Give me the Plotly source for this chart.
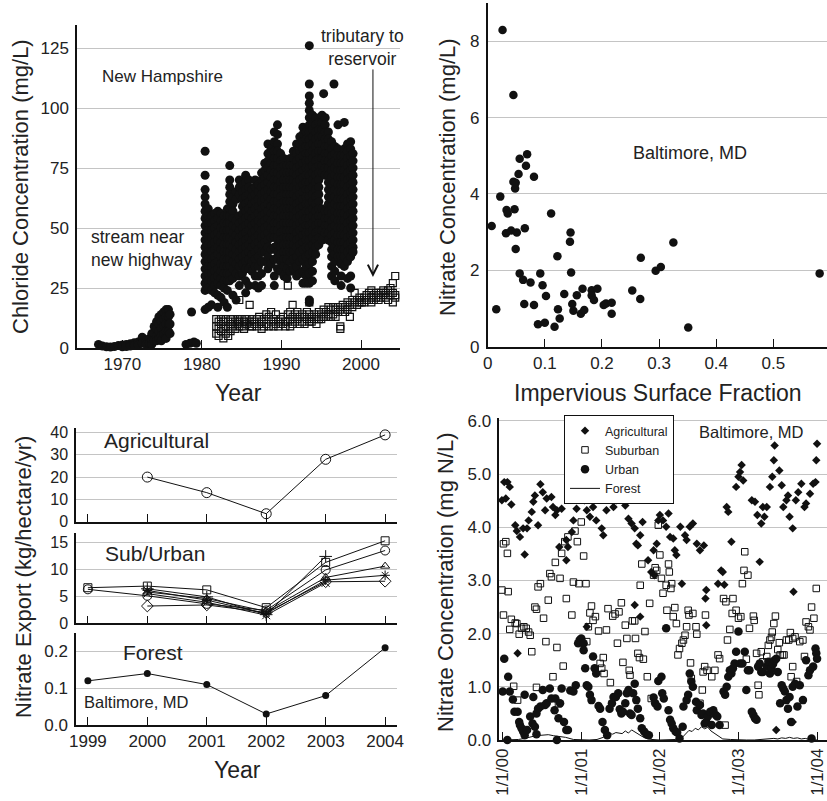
import plotly.graph_objects as go

FONT = "Liberation Sans, Arial, Helvetica, sans-serif"
W, H = 827, 801

# ---------------- Panel A: chloride, New Hampshire ----------------
# stream near new highway: columns of (year, [values])
stream_col_year = [
    1967.0, 1967.5, 1968.0, 1968.5, 1969.0, 1969.5, 1970.0, 1970.5, 1971.0, 1971.5,
    1972.0, 1972.5, 1973.0, 1973.4, 1973.7, 1974.0, 1974.3, 1974.6, 1974.9, 1975.2,
    1975.5, 1975.8, 1976.0, 1978.0, 1978.5, 1978.7, 1979.0, 1979.3,
    1980.4, 1980.8, 1981.2, 1981.6, 1982.0, 1982.4, 1982.8, 1983.2, 1983.5, 1983.9,
    1984.3, 1984.7, 1985.1, 1985.5, 1985.9, 1986.3, 1986.7, 1987.1, 1987.5, 1987.9,
    1988.3, 1988.7, 1989.1, 1989.5, 1989.9, 1990.3, 1990.7, 1991.1, 1991.5, 1991.9,
    1992.3, 1992.7, 1993.1, 1993.5, 1993.9, 1994.3, 1994.7, 1995.1, 1995.3, 1995.5,
    1995.9, 1996.3, 1996.6, 1996.7, 1997.1, 1997.5, 1997.9, 1998.3, 1998.7, 1999.0,
]
stream_col_cl = [
    [1.5], [0.8], [0.5], [0.4], [0.6], [1.0], [1.2, 0.5], [1.5, 0.6], [1.8, 0.8], [2.2, 1.0],
    [2.5, 1.2], [4.5, 2.0], [3.0, 1.5], [4.0, 2.0], [6, 3, 1.5], [9, 6, 3], [11, 8, 5, 3],
    [13, 10, 7, 4], [14, 11, 8, 5, 3], [15, 12, 9, 6], [16, 13, 10, 7, 4], [16, 13, 10, 7],
    [14, 10, 6], [1.5], [2.0], [15], [2.5], [2.0],
    [82, 72, 66, 63, 60, 57, 54, 51, 48, 45, 42, 39, 36, 33, 30, 27, 24, 16],
    [58, 55, 52, 49, 46, 43, 40, 37, 34, 31, 28, 25, 17],
    [55, 52, 49, 46, 43, 40, 37, 34, 31, 28, 24, 18],
    [56, 53, 50, 47, 44, 41, 38, 35, 32, 29, 26, 23],
    [57, 54, 51, 48, 45, 42, 39, 36, 33, 30, 27, 22, 17],
    [56, 53, 50, 47, 44, 41, 38, 35, 32, 29, 26, 21],
    [55, 52, 49, 46, 43, 40, 37, 34, 31, 28, 25, 19],
    [58, 55, 52, 49, 46, 43, 40, 37, 34, 31, 28, 24, 17],
    [76, 70, 67, 64, 61, 58, 55, 52, 49, 46, 43, 40, 37, 34, 31, 28],
    [63, 60, 57, 54, 51, 48, 45, 42, 39, 36, 33, 29, 22],
    [65, 62, 53, 50, 47, 44, 41, 38, 35, 31, 20],
    [70, 67, 64, 55, 52, 49, 46, 43, 40, 37, 34, 30, 26],
    [68, 65, 62, 59, 56, 53, 50, 47, 44, 41, 38, 35, 31],
    [72, 69, 66, 63, 60, 57, 54, 51, 48, 45, 42, 39, 36, 33, 28, 23],
    [70, 67, 64, 61, 58, 55, 52, 49, 46, 43, 40, 37, 33, 26],
    [66, 63, 60, 57, 54, 51, 48, 45, 42, 39, 36, 32],
    [70, 67, 64, 61, 58, 55, 52, 49, 46, 43, 40, 37, 34, 30, 26],
    [68, 65, 62, 59, 56, 53, 50, 47, 44, 41, 38, 34, 30, 25],
    [73, 70, 67, 64, 61, 58, 55, 52, 49, 46, 43, 40, 36, 31, 26],
    [77, 74, 71, 68, 65, 62, 59, 56, 53, 50, 47, 44, 40, 36],
    [85, 81, 78, 75, 72, 69, 66, 63, 60, 57, 54, 51, 48, 45, 42, 38, 33],
    [83, 80, 77, 74, 71, 68, 65, 62, 59, 56, 53, 50, 46, 41, 35],
    [90, 86, 82, 79, 76, 73, 70, 67, 64, 61, 58, 55, 52, 49, 46, 42, 37, 30, 26],
    [93, 89, 85, 82, 79, 76, 73, 70, 67, 64, 61, 58, 55, 52, 49, 46, 43, 40, 37, 33],
    [81, 78, 75, 72, 69, 66, 63, 60, 57, 54, 51, 48, 45, 42, 39, 36, 32],
    [79, 76, 73, 70, 67, 64, 61, 58, 55, 52, 49, 46, 43, 40, 37, 34, 30],
    [76, 73, 70, 67, 64, 61, 58, 55, 52, 49, 46, 43, 40, 37, 33, 29],
    [79, 76, 73, 70, 67, 64, 61, 58, 55, 52, 49, 46, 43, 40, 36, 32],
    [82, 79, 76, 73, 70, 67, 64, 61, 58, 55, 52, 49, 46, 43, 40, 37, 33],
    [85, 81, 78, 75, 72, 69, 66, 63, 60, 57, 54, 51, 48, 45, 42, 38, 34, 30],
    [88, 85, 82, 79, 76, 73, 70, 67, 64, 61, 58, 55, 52, 49, 46, 43, 40, 36, 31],
    [92, 89, 86, 83, 80, 77, 74, 71, 68, 65, 62, 59, 56, 53, 50, 47, 44, 41, 37, 32, 27],
    [90, 87, 84, 81, 78, 75, 72, 69, 66, 63, 60, 57, 54, 51, 48, 45, 42, 38, 34, 30, 27],
    [126, 110, 105, 102, 99, 96, 93, 90, 87, 84, 81, 78, 75, 72, 69, 66, 63, 60, 57, 54,
     51, 48, 45, 42, 39, 35, 31, 27, 20, 19],
    [97, 94, 91, 88, 85, 82, 79, 76, 73, 70, 67, 64, 61, 58, 55, 52, 49, 46, 43, 40, 36, 32, 28],
    [96, 93, 90, 87, 84, 81, 78, 75, 72, 69, 66, 63, 60, 57, 54, 51, 48, 45, 42, 39],
    [94, 91, 88, 85, 82, 79, 76, 73, 70, 67, 64, 61, 58, 55, 52, 49, 46, 43],
    [97, 94, 91, 88, 85, 82, 79, 76, 73, 58, 55, 52, 49, 45],
    [106],
    [96, 93, 90, 87, 84, 81, 78, 75, 72, 57, 54, 51, 48],
    [90, 87, 84, 81, 78, 75, 72, 69, 66, 63, 60, 57, 54, 51, 48, 45],
    [86, 83, 80, 77, 74, 71, 68, 65, 62, 59, 56, 53, 50, 47, 44, 41, 38, 34, 30],
    [110],
    [84, 81, 78, 75, 72, 69, 66, 63, 60, 57, 54, 51, 48, 45, 42, 39, 36, 32, 28],
    [93, 83, 80, 77, 74, 71, 68, 65, 62, 59, 56, 53, 50, 47, 44, 41, 38],
    [80, 77, 74, 71, 68, 65, 62, 59, 56, 53, 50, 47, 44, 41, 38, 35, 30, 26],
    [94, 83, 80, 77, 74, 71, 68, 65, 62, 59, 56, 53, 50, 47, 44, 41, 38, 34],
    [85, 82, 79, 76, 73, 70, 67, 64, 61, 58, 55, 52, 49, 46, 43, 40, 36, 29],
    [86, 83, 80, 77, 74, 71, 68, 65, 62, 59, 56, 53, 50, 47, 44, 41, 38, 30, 25],
    [81, 78, 75, 72, 69, 66, 63, 60, 57, 54, 51, 48, 45, 42, 40],
]

# tributary to reservoir: columns of (year, [values])
trib_col_year = [
    1981.8, 1982.1, 1982.4, 1982.7, 1983.0, 1983.3, 1983.6, 1983.9, 1984.2, 1984.5,
    1984.7, 1985.0, 1985.3, 1985.6, 1986.0, 1986.3, 1986.6, 1986.9, 1987.2, 1987.5,
    1987.8, 1988.1, 1988.4, 1988.7, 1989.0, 1989.3, 1989.6, 1989.9, 1990.2, 1990.5,
    1990.8, 1991.1, 1991.4, 1991.7, 1992.0, 1992.3, 1992.6, 1992.9, 1993.2, 1993.5,
    1993.8, 1994.1, 1994.4, 1994.7, 1995.0, 1995.3, 1995.6, 1995.9, 1996.2, 1996.5,
    1996.8, 1997.1, 1997.4, 1997.7, 1998.0, 1998.3, 1998.6, 1998.9, 1999.2, 1999.5,
    1999.8, 2000.1, 2000.4, 2000.7, 2001.0, 2001.3, 2001.6, 2001.9, 2002.2, 2002.5,
    2002.8, 2003.1, 2003.4, 2003.7, 2004.0, 2004.3,
]
trib_col_cl = [
    [12, 9, 6], [11, 8, 5], [12, 10, 7], [11, 8, 4], [12, 9, 6], [11, 8, 5], [12, 10, 7],
    [12, 9], [11, 8], [12, 10], [20, 11, 9], [12, 9], [11, 8], [12, 10], [18, 11, 9],
    [12, 9], [11, 10], [12, 9], [13, 10], [11, 8], [12, 9], [14, 10], [13, 9], [15, 11],
    [12, 9], [14, 10], [11, 9], [12, 10], [13, 10], [11, 9], [26, 14, 11], [15, 12, 9],
    [18, 13, 10], [14, 11], [15, 12], [13, 10], [14, 11], [13, 10], [15, 12], [19, 14, 11],
    [13, 11], [14, 12], [13, 10], [15, 12], [14, 12], [16, 13], [15, 13], [17, 14],
    [16, 13], [17, 14], [16, 13], [17, 15], [16, 9, 8], [18, 15], [17, 15], [19, 16],
    [18, 13], [20, 17], [23, 19], [20, 18], [21, 19], [20, 19], [21, 19], [22, 20],
    [23, 20], [24, 21, 19], [22, 20], [23, 21], [22, 20], [23, 21], [24, 22], [23, 21],
    [24, 22, 20], [25, 22], [27, 23, 19], [30, 22, 21],
]

# ---------------- Panel B: nitrate vs impervious surface ----------------
imperv_frac = [0.026, 0.045, 0.007, 0.015, 0.022, 0.033, 0.035, 0.047, 0.032, 0.041,
               0.051, 0.049, 0.045, 0.048, 0.049, 0.054, 0.056, 0.067, 0.069, 0.081,
               0.065, 0.056, 0.062, 0.075, 0.064, 0.081, 0.088, 0.092, 0.096, 0.100,
               0.102, 0.111, 0.117, 0.122, 0.123, 0.126, 0.134, 0.145, 0.144, 0.146,
               0.148, 0.150, 0.156, 0.163, 0.166, 0.169, 0.182, 0.182, 0.186, 0.192,
               0.203, 0.207, 0.217, 0.217, 0.253, 0.267, 0.268, 0.294, 0.303, 0.325,
               0.351, 0.581]
imperv_nitrate = [8.29, 6.59, 3.16, 0.98, 3.93, 3.58, 3.49, 3.60, 2.97, 3.04,
                  2.99, 2.56, 4.32, 4.14, 4.29, 4.52, 4.92, 4.74, 5.04, 4.45,
                  3.10, 1.92, 1.75, 1.68, 1.12, 1.09, 0.59, 1.92, 1.61, 0.63,
                  1.33, 3.49, 0.52, 2.37, 0.98, 0.74, 1.38, 2.99, 2.75, 1.94,
                  1.12, 0.94, 1.35, 0.86, 1.52, 0.96, 1.48, 1.34, 1.22, 1.52,
                  1.09, 1.13, 1.15, 0.86, 1.47, 1.25, 2.33, 1.99, 2.09, 2.73,
                  0.50, 1.92]

# ---------------- Panel C: nitrate export ----------------
export_years = [1999, 2000, 2001, 2002, 2003, 2004]
ag_export = [None, 20, 13, 3.5, 28, 39]
sub_square = [6.6, 6.9, 6.2, 2.9, 11.3, 15.3]
sub_circle = [6.3, 5.1, 3.6, 2.4, 9.9, 13.5]
sub_triangle = [None, 5.8, 4.6, 2.2, 8.5, 10.6]
sub_asterisk = [None, 6.1, 4.3, 1.8, 8.0, 8.9]
sub_plus = [None, 6.4, 4.9, 1.6, 12.4, None]
sub_diamond = [None, 3.2, 3.4, 2.0, 7.7, 7.8]
sub_xmark = [None, 5.5, 3.9, 1.5, 7.5, None]
forest_export = [0.12, 0.14, 0.11, 0.03, 0.08, 0.21]

# ---------------- Panel D: nitrate concentration time series ----------------
ag_pts = [
    (1999.99, 4.51), (2000.02, 4.85), (2000.06, 4.85), (2000.09, 4.76), (2000.04, 4.54), (2000.11, 4.43),
    (2000.16, 4.04), (2000.18, 3.93), (2000.22, 3.82), (2000.26, 3.98), (2000.28, 3.49), (2000.31, 3.98),
    (2000.33, 4.13), (2000.37, 4.29), (2000.39, 4.48), (2000.41, 4.60), (2000.45, 4.04), (2000.48, 4.81),
    (2000.51, 4.66), (2000.54, 4.32), (2000.56, 4.54), (2000.62, 4.57), (2000.64, 4.38), (2000.67, 4.23),
    (2000.69, 4.32), (2000.75, 4.35), (2000.72, 3.63), (2000.81, 3.76), (2000.83, 3.63), (2000.81, 3.38),
    (2000.88, 3.91), (2000.90, 4.13), (2000.94, 4.35), (2000.97, 4.63), (2001.00, 4.63), (2001.04, 4.51),
    (2001.07, 4.32), (2001.11, 4.20), (2001.15, 4.38), (2001.19, 4.13), (2001.26, 3.98), (2001.28, 3.85),
    (2001.32, 4.32), (2001.36, 4.73), (2001.39, 4.60), (2001.41, 4.38), (2001.45, 4.51), (2001.49, 4.54),
    (2001.51, 4.73), (2001.56, 4.41), (2001.60, 4.16), (2001.64, 4.07), (2001.68, 3.98), (2001.70, 3.69),
    (2001.72, 3.66), (2001.75, 3.85), (2001.78, 4.10), (2001.85, 3.38), (2001.89, 3.16), (2001.92, 3.57),
    (2001.96, 3.69), (2001.98, 4.13), (2002.00, 4.23), (2002.04, 4.13), (2002.08, 4.01), (2002.11, 4.26),
    (2002.13, 3.82), (2002.17, 3.79), (2002.19, 3.57), (2002.21, 3.48), (2002.26, 4.01), (2002.32, 3.85),
    (2002.34, 3.76), (2002.38, 4.01), (2002.42, 4.07), (2002.47, 3.69), (2002.51, 3.57), (2002.56, 3.66),
    (2002.59, 2.82), (2002.58, 2.66), (2002.59, 2.16), (2002.74, 2.94), (2002.78, 3.19), (2002.91, 3.73),
    (2002.85, 4.38), (2002.87, 4.29), (2002.97, 4.76), (2003.00, 4.95), (2003.02, 5.04), (2003.04, 5.17),
    (2003.06, 4.88), (2003.17, 4.51), (2003.21, 4.48), (2003.24, 4.23), (2003.27, 3.35), (2003.29, 4.07),
    (2003.31, 4.38), (2003.33, 4.20), (2003.36, 4.38), (2003.40, 4.76), (2003.43, 4.95), (2003.45, 5.26),
    (2003.46, 5.54), (2003.52, 5.07), (2003.55, 4.79), (2003.57, 4.38), (2003.61, 4.51), (2003.63, 4.60),
    (2003.65, 4.20), (2003.69, 3.98), (2003.70, 2.79), (2003.73, 4.51), (2003.76, 4.66), (2003.80, 4.82),
    (2003.84, 4.38), (2003.86, 4.45), (2003.91, 4.63), (2003.95, 4.82), (2003.98, 4.85), (2003.99, 5.26),
    (2004.00, 5.57), (2000.19, 1.63), (2001.07, 2.13), (2003.69, 0.34), (2003.48, 0.19), (2001.68, 2.54),
    (2001.75, 2.32), (2002.28, 2.94), (2001.93, 3.10), (2002.80, 3.16), (2002.82, 2.92),
]
sub_pts = [
    (1999.99, 2.82), (2000.01, 3.69), (2000.04, 3.73), (2000.06, 3.51), (2000.01, 2.35), (2000.07, 2.79),
    (2000.09, 2.08), (2000.11, 2.27), (2000.16, 2.20), (2000.18, 2.19), (2000.21, 1.99), (2000.24, 2.10),
    (2000.27, 2.13), (2000.30, 2.10), (2000.33, 2.03), (2000.35, 1.97), (2000.37, 1.66), (2000.14, 1.01),
    (2000.19, 0.75), (2000.43, 0.99), (2000.45, 2.88), (2000.48, 2.94), (2000.41, 2.50), (2000.43, 2.46),
    (2000.52, 2.29), (2000.55, 1.85), (2000.58, 2.63), (2000.60, 3.13), (2000.62, 3.07), (2000.64, 1.19),
    (2000.67, 3.34), (2000.69, 1.74), (2000.71, 0.68), (2000.73, 3.04), (2000.75, 3.51), (2000.77, 1.39),
    (2000.79, 3.73), (2000.81, 2.66), (2000.83, 3.82), (2000.88, 2.35), (2000.90, 2.97), (2000.92, 3.93),
    (2000.95, 3.73), (2000.97, 2.94), (2001.00, 4.10), (2001.03, 3.46), (2001.06, 2.94), (2001.07, 1.85),
    (2001.09, 2.13), (2001.11, 2.39), (2001.13, 2.52), (2001.15, 2.25), (2001.18, 2.32), (2001.22, 2.05),
    (2001.24, 1.44), (2001.26, 1.35), (2001.28, 1.55), (2001.29, 1.25), (2001.32, 2.07), (2001.34, 2.47),
    (2001.37, 1.08), (2001.40, 2.33), (2001.43, 2.37), (2001.46, 1.82), (2001.48, 2.41), (2001.51, 2.58),
    (2001.53, 1.46), (2001.56, 2.16), (2001.58, 1.91), (2001.61, 1.31), (2001.62, 1.22), (2001.65, 2.24),
    (2001.68, 2.24), (2001.69, 1.91), (2001.72, 1.63), (2001.74, 1.55), (2001.75, 2.91), (2001.77, 3.31),
    (2001.79, 1.52), (2001.81, 2.04), (2001.84, 1.19), (2001.87, 2.57), (2001.89, 0.78), (2001.92, 3.10),
    (2001.94, 3.24), (2001.96, 3.19), (2001.98, 4.04), (2002.00, 3.48), (2002.02, 3.04), (2002.04, 2.76),
    (2002.08, 2.91), (2002.09, 2.44), (2002.11, 3.31), (2002.12, 3.16), (2002.14, 2.85), (2002.15, 2.94),
    (2002.17, 2.32), (2002.19, 2.49), (2002.21, 2.19), (2002.23, 1.60), (2002.25, 1.72), (2002.28, 1.82),
    (2002.30, 1.88), (2002.32, 1.97), (2002.34, 2.13), (2002.36, 2.44), (2002.37, 2.35), (2002.39, 1.45),
    (2002.40, 1.16), (2002.42, 2.38), (2002.46, 2.13), (2002.47, 1.99), (2002.51, 0.69), (2002.54, 0.94),
    (2002.55, 1.28), (2002.57, 1.38), (2002.58, 2.35), (2002.60, 1.31), (2002.66, 1.19), (2002.70, 1.31),
    (2002.74, 1.60), (2002.76, 1.53), (2002.83, 0.28), (2002.81, 2.66), (2002.84, 2.60), (2002.86, 1.88),
    (2002.89, 2.08), (2002.92, 2.38), (2002.93, 2.66), (2002.97, 2.44), (2003.00, 2.29), (2003.03, 2.32),
    (2003.05, 2.94), (2003.07, 3.19), (2003.08, 3.54), (2003.10, 1.52), (2003.12, 3.10), (2003.14, 2.10),
    (2003.19, 2.33), (2003.20, 2.25), (2003.23, 1.63), (2003.25, 1.03), (2003.26, 0.85), (2003.29, 1.66),
    (2003.31, 1.47), (2003.36, 1.57), (2003.38, 1.78), (2003.40, 1.88), (2003.42, 1.93), (2003.43, 2.03),
    (2003.45, 2.19), (2003.47, 2.33), (2003.50, 1.70), (2003.52, 1.83), (2003.53, 1.60), (2003.56, 1.60),
    (2003.58, 1.60), (2003.61, 1.88), (2003.64, 1.88), (2003.66, 2.02), (2003.69, 1.91), (2003.72, 1.94),
    (2003.69, 1.38), (2003.67, 1.19), (2003.74, 1.10), (2003.78, 1.85), (2003.82, 1.88), (2003.84, 1.57),
    (2003.86, 2.22), (2003.89, 2.13), (2003.91, 2.07), (2003.93, 2.50), (2003.96, 2.29), (2003.99, 2.85),
]
urb_pts = [
    (2000.00, 0.91), (2000.02, 1.53), (2000.06, 0.00), (2000.07, 1.19), (2000.09, 0.91), (2000.13, 0.76),
    (2000.15, 0.53), (2000.19, 0.53), (2000.21, 0.34), (2000.22, 0.28), (2000.24, 0.22), (2000.26, 0.16),
    (2000.28, 0.09), (2000.31, 0.19), (2000.28, 0.85), (2000.35, 0.44), (2000.38, 0.31), (2000.41, 0.25),
    (2000.43, 0.11), (2000.39, 0.81), (2000.43, 0.50), (2000.45, 0.59), (2000.48, 0.63), (2000.51, 0.94),
    (2000.54, 0.66), (2000.56, 0.69), (2000.60, 0.97), (2000.62, 0.78), (2000.66, 0.56), (2000.67, 0.78),
    (2000.69, 0.00), (2000.71, 0.41), (2000.73, 0.69), (2000.75, 0.97), (2000.78, 0.34), (2000.81, 0.19),
    (2000.83, 0.19), (2000.86, 0.93), (2000.90, 0.91), (2000.93, 1.03), (2000.96, 1.82), (2000.98, 1.88),
    (2001.00, 1.91), (2001.03, 1.82), (2001.03, 1.69), (2001.05, 1.35), (2001.07, 1.03), (2001.09, 1.00),
    (2001.11, 0.85), (2001.13, 0.75), (2001.15, 1.57), (2001.17, 1.35), (2001.19, 1.25), (2001.22, 0.64),
    (2001.24, 0.59), (2001.27, 0.34), (2001.30, 0.19), (2001.33, 0.09), (2001.36, 0.59), (2001.39, 0.69),
    (2001.41, 0.81), (2001.44, 0.81), (2001.47, 0.88), (2001.49, 0.58), (2001.51, 0.50), (2001.53, 0.53),
    (2001.56, 0.69), (2001.58, 0.88), (2001.60, 0.94), (2001.62, 0.50), (2001.64, 0.47), (2001.66, 0.88),
    (2001.68, 1.06), (2001.70, 0.75), (2001.72, 0.59), (2001.75, 0.41), (2001.77, 0.22), (2001.80, 0.16),
    (2001.83, 0.11), (2001.86, 0.09), (2001.92, 0.80), (2001.94, 0.69), (2001.97, 0.63), (2001.98, 1.11),
    (2002.02, 1.19), (2002.03, 0.88), (2002.05, 0.78), (2002.08, 2.10), (2002.11, 0.56), (2002.13, 0.38),
    (2002.15, 0.31), (2002.17, 0.22), (2002.20, 0.16), (2002.22, 0.14), (2002.25, 0.03), (2002.29, 0.25),
    (2002.30, 0.63), (2002.34, 0.75), (2002.36, 0.85), (2002.38, 1.25), (2002.40, 1.10), (2002.42, 1.00),
    (2002.46, 0.72), (2002.47, 0.56), (2002.51, 0.66), (2002.53, 0.47), (2002.55, 0.50), (2002.57, 0.31),
    (2002.59, 0.34), (2002.61, 0.44), (2002.64, 0.53), (2002.66, 0.28), (2002.68, 0.56), (2002.71, 0.47),
    (2002.73, 0.44), (2002.76, 0.28), (2002.81, 0.91), (2002.83, 0.85), (2002.85, 1.00), (2002.87, 1.19),
    (2002.89, 1.31), (2002.91, 1.25), (2002.93, 1.35), (2002.95, 1.44), (2002.97, 1.66), (2003.00, 2.04),
    (2003.02, 1.44), (2003.05, 1.44), (2003.08, 1.66), (2003.10, 0.94), (2003.12, 1.31), (2003.14, 1.31),
    (2003.17, 0.53), (2003.19, 0.47), (2003.21, 0.41), (2003.23, 0.38), (2003.25, 1.38), (2003.27, 1.44),
    (2003.29, 1.28), (2003.31, 1.28), (2003.36, 1.38), (2003.38, 1.47), (2003.40, 1.25), (2003.42, 1.35),
    (2003.44, 1.43), (2003.46, 1.50), (2003.48, 1.53), (2003.50, 1.28), (2003.53, 0.69), (2003.55, 1.03),
    (2003.57, 0.97), (2003.59, 0.91), (2003.61, 0.75), (2003.63, 0.59), (2003.65, 0.81), (2003.67, 0.34),
    (2003.69, 1.00), (2003.72, 1.06), (2003.75, 0.63), (2003.78, 1.03), (2003.82, 0.75), (2003.86, 1.50),
    (2003.89, 1.22), (2003.91, 1.31), (2003.93, 0.03), (2003.95, 1.38), (2003.98, 1.72), (2003.99, 1.63),
    (2004.00, 1.53),
]
forest_pts = [
    (2000.00, 0.00), (2000.10, 0.00), (2000.20, 0.01), (2000.28, 0.03), (2000.35, 0.06), (2000.42, 0.08),
    (2000.50, 0.09), (2000.58, 0.10), (2000.65, 0.08), (2000.72, 0.07), (2000.80, 0.05), (2000.90, 0.01),
    (2001.00, 0.00), (2001.10, 0.00), (2001.20, 0.01), (2001.28, 0.05), (2001.32, 0.10), (2001.36, 0.12),
    (2001.40, 0.11), (2001.44, 0.14), (2001.48, 0.13), (2001.52, 0.12), (2001.56, 0.17), (2001.60, 0.13),
    (2001.64, 0.19), (2001.68, 0.15), (2001.72, 0.12), (2001.76, 0.08), (2001.82, 0.03), (2001.90, 0.01),
    (2002.00, 0.00), (2002.10, 0.00), (2002.20, 0.01), (2002.28, 0.04), (2002.33, 0.12), (2002.37, 0.18),
    (2002.41, 0.16), (2002.45, 0.22), (2002.49, 0.19), (2002.53, 0.25), (2002.57, 0.21), (2002.61, 0.24),
    (2002.65, 0.17), (2002.70, 0.12), (2002.75, 0.06), (2002.80, 0.02), (2002.90, 0.01), (2003.00, 0.00),
    (2003.10, 0.00), (2003.20, 0.00), (2003.30, 0.01), (2003.40, 0.02), (2003.45, 0.03), (2003.50, 0.02),
    (2003.55, 0.04), (2003.60, 0.03), (2003.65, 0.05), (2003.70, 0.03), (2003.75, 0.04), (2003.80, 0.02),
    (2003.85, 0.03), (2003.90, 0.01), (2004.00, 0.00),
]


def flatten(cols_x, cols_v):
    xs, ys = [], []
    for x, vs in zip(cols_x, cols_v):
        for v in vs:
            xs.append(x)
            ys.append(v)
    return xs, ys


def split(pts):
    return [p[0] for p in pts], [p[1] for p in pts]


fig = go.Figure()

# ---- Panel A traces ----
sx, sy = flatten(stream_col_year, stream_col_cl)
tx, ty = flatten(trib_col_year, trib_col_cl)
fig.add_trace(go.Scatter(x=sx, y=sy, mode="markers", xaxis="x", yaxis="y", showlegend=False,
                         cliponaxis=False, marker=dict(symbol="circle", size=9, color="#111")))
fig.add_trace(go.Scatter(x=tx, y=ty, mode="markers", xaxis="x", yaxis="y", showlegend=False,
                         cliponaxis=False,
                         marker=dict(symbol="square-open", size=7, color="#111", line=dict(width=1.2))))

# ---- Panel B ----
fig.add_trace(go.Scatter(x=imperv_frac, y=imperv_nitrate, mode="markers", xaxis="x2", yaxis="y2",
                         showlegend=False, cliponaxis=False,
                         marker=dict(symbol="circle", size=8.5, color="#111")))

# ---- Panel C ----
line_style = dict(color="#111", width=1)
fig.add_trace(go.Scatter(x=export_years, y=ag_export, mode="lines+markers", xaxis="x3", yaxis="y3",
                         showlegend=False, cliponaxis=False, line=line_style,
                         marker=dict(symbol="circle-open", size=10, color="#111", line=dict(width=1))))
sub_series = [
    (sub_square, "square-open", 8),
    (sub_circle, "circle-open", 9),
    (sub_triangle, "triangle-up-open", 8),
    (sub_asterisk, "asterisk-open", 8),
    (sub_plus, "cross-thin-open", 9),
    (sub_diamond, "diamond-open", 9),
    (sub_xmark, "x-thin-open", 8),
]
for vals, sym, sz in sub_series:
    fig.add_trace(go.Scatter(x=export_years, y=vals, mode="lines+markers", xaxis="x4", yaxis="y4",
                             showlegend=False, cliponaxis=False, line=line_style, connectgaps=False,
                             marker=dict(symbol=sym, size=sz, color="#111", line=dict(width=1, color="#111"))))
fig.add_trace(go.Scatter(x=export_years, y=forest_export, mode="lines+markers", xaxis="x5", yaxis="y5",
                         showlegend=False, cliponaxis=False, line=line_style,
                         marker=dict(symbol="circle", size=7, color="#111")))

# ---- Panel D ----
fx, fy = split(forest_pts)
ax_, ay_ = split(ag_pts)
bx, by = split(sub_pts)
ux, uy = split(urb_pts)
fig.add_trace(go.Scatter(x=ax_, y=ay_, mode="markers", name="Agricultural", xaxis="x6", yaxis="y6",
                         cliponaxis=False, marker=dict(symbol="diamond", size=6.5, color="#111")))
fig.add_trace(go.Scatter(x=bx, y=by, mode="markers", name="Suburban", xaxis="x6", yaxis="y6",
                         cliponaxis=False,
                         marker=dict(symbol="square-open", size=6.5, color="#111", line=dict(width=1))))
fig.add_trace(go.Scatter(x=ux, y=uy, mode="markers", name="Urban", xaxis="x6", yaxis="y6",
                         cliponaxis=False, marker=dict(symbol="circle", size=8.5, color="#111")))
fig.add_trace(go.Scatter(x=fx, y=fy, mode="lines", name="Forest", xaxis="x6", yaxis="y6",
                         line=dict(color="#111", width=1)))


def px_x(p):
    return p / W


def px_y(p):
    return 1 - p / H


GRID = "#c4c4c4"
TICKF = dict(family=FONT, size=17, color="#222")
TICKF_SMALL = dict(family=FONT, size=16, color="#222")
common_x = dict(showline=True, linecolor="#111", linewidth=1.5, showgrid=False, zeroline=False,
                ticks="inside", ticklen=8, tickwidth=1.2, tickcolor="#111", tickfont=TICKF,
                fixedrange=True, automargin=False)
common_y = dict(showline=True, linecolor="#111", linewidth=1.5, showgrid=True, gridcolor=GRID,
                gridwidth=1, zeroline=False, ticks="", tickfont=TICKF, fixedrange=True,
                ticklabelstandoff=3, automargin=False)

layout = dict(
    template="none",
    width=W, height=H, margin=dict(l=0, r=0, t=0, b=0, pad=0), autosize=False,
    paper_bgcolor="white", plot_bgcolor="white",
    font=dict(family=FONT, color="#222"),
    xaxis=dict(common_x, domain=[px_x(77), px_x(400)], range=[1964.3, 2004.9], anchor="y",
               tickvals=[1970, 1980, 1990, 2000]),
    yaxis=dict(common_y, domain=[px_y(348), px_y(25)], range=[0, 134.6], anchor="x",
               tickvals=[0, 25, 50, 75, 100, 125]),
    xaxis2=dict(common_x, domain=[px_x(487.7), px_x(826.5)], range=[0, 0.593], anchor="y2",
                tickvals=[0, 0.1, 0.2, 0.3, 0.4, 0.5], ticktext=["0", "0.1", "0.2", "0.3", "0.4", "0.5"]),
    yaxis2=dict(common_y, domain=[px_y(346.7), px_y(3)], range=[0, 9.0], anchor="x2",
                tickvals=[0, 2, 4, 6, 8]),
    xaxis3=dict(common_x, domain=[px_x(76), px_x(397)], range=[1998.8, 2004.2], anchor="y3",
                tickvals=export_years, showticklabels=False),
    yaxis3=dict(common_y, domain=[px_y(521.5), px_y(428)], range=[0, 42.1], anchor="x3",
                tickvals=[0, 10, 20, 30, 40], tickfont=TICKF_SMALL),
    xaxis4=dict(common_x, domain=[px_x(76), px_x(397)], range=[1998.8, 2004.2], anchor="y4",
                tickvals=export_years, showticklabels=False),
    yaxis4=dict(common_y, domain=[px_y(623.3), px_y(532.7)], range=[0, 16.8], anchor="x4",
                tickvals=[0, 5, 10, 15], tickfont=TICKF_SMALL),
    xaxis5=dict(common_x, domain=[px_x(76), px_x(397)], range=[1998.8, 2004.2], anchor="y5",
                tickvals=export_years),
    yaxis5=dict(common_y, domain=[px_y(725), px_y(632.7)], range=[0, 0.251], anchor="x5",
                tickvals=[0, 0.1, 0.2], ticktext=["0.0", "0.1", "0.2"]),
    xaxis6=dict(common_x, domain=[px_x(499.3), px_x(826.5)], range=[1999.957, 2004.12], anchor="y6",
                tickvals=[2000, 2001, 2002, 2003, 2004],
                ticktext=["1/1/00", "1/1/01", "1/1/02", "1/1/03", "1/1/04"], tickangle=-90),
    yaxis6=dict(common_y, domain=[px_y(740), px_y(418.3)], range=[0, 6.05], anchor="x6",
                tickvals=[0, 1, 2, 3, 4, 5, 6], tickformat=".1f"),
    legend=dict(x=px_x(564), y=px_y(415), xanchor="left", yanchor="top",
                bgcolor="white", bordercolor="#111", borderwidth=1,
                font=dict(family=FONT, size=12.5, color="#222"),
                tracegroupgap=0, itemwidth=30),
)
fig.update_layout(**layout)


def note(text, x, y, size, xanchor="center", textangle=0, align="center"):
    fig.add_annotation(text=text, x=px_x(x), y=px_y(y), xref="paper", yref="paper",
                       xanchor=xanchor, yanchor="middle", showarrow=False, textangle=textangle,
                       align=align, font=dict(family=FONT, size=size, color="#222"))


# axis titles
note("Year", 238, 393, 23)
note("Chloride Concentration (mg/L)", 20, 187, 22, textangle=-90)
note("Impervious Surface Fraction", 658, 393, 23)
note("Nitrate Concentration (mg/L)", 447, 177, 22, textangle=-90)
note("Year", 237, 770, 23)
note("Nitrate Export (kg/hectare/yr)", 23, 577, 22, textangle=-90)
note("Nitrate Concentration (mg N/L)", 445, 582, 22, textangle=-90)

# in-panel labels
note("New Hampshire", 162, 76, 17)
note("stream near<br>new highway", 89, 249, 17.5, xanchor="left", align="left")
note("tributary to<br>reservoir", 362, 47.5, 17.5)
note("Baltimore, MD", 690, 153, 18)
note("Agricultural", 156, 440, 21)
note("Sub/Urban", 155, 553, 21)
note("Forest", 153, 652, 21)
note("Baltimore, MD", 136, 702, 16.5)
note("Baltimore, MD", 751, 432, 16.5)

# arrow to tributary series
fig.add_annotation(x=2001.5, y=29.6, xref="x", yref="y", ax=2001.5, ay=116.7, axref="x", ayref="y",
                   text="", showarrow=True, arrowhead=5, arrowsize=2, arrowwidth=1, arrowcolor="#111")

fig.write_html("out.html", config={"displayModeBar": False},
               post_script="document.body.style.margin='0';")
